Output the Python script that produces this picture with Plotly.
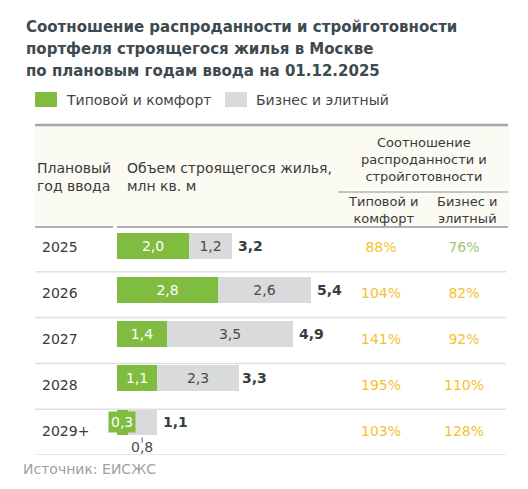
import plotly.graph_objects as go

# данные
years = ["2025", "2026", "2027", "2028", "2029+"]
typical = [2.0, 2.8, 1.4, 1.1, 0.3]
business = [1.2, 2.6, 3.5, 2.3, 0.8]
totals = [3.2, 5.4, 4.9, 3.3, 1.1]
ratio_typical = ["88%", "104%", "141%", "195%", "103%"]
ratio_business = ["76%", "82%", "92%", "110%", "128%"]

W, H = 528, 489
GREEN = "#7fbc3f"
GREY = "#d9dadb"
TEXT = "#3a3a3a"
YELLOW = "#f3c22f"
LIGHTGREEN = "#a0c57c"
FONT = "DejaVu Sans"


def px(x):
    return x / W


def py(y):
    return 1 - y / H


def fmt(v):
    return f"{v:.1f}".replace(".", ",")


# подписи внутри столбцов (для 2029+ - отдельно)
typ_text = [fmt(v) for v in typical[:-1]] + [""]
bus_text = [fmt(v) for v in business[:-1]] + [""]

fig = go.Figure()
fig.add_trace(go.Bar(
    y=years, x=typical, orientation="h", marker=dict(color=GREEN, line=dict(width=0)),
    width=0.57, text=typ_text, textposition="inside", insidetextanchor="middle",
    textfont=dict(color="white", size=14, family=FONT), constraintext="none",
    name="Типовой и комфорт", hoverinfo="skip",
))
fig.add_trace(go.Bar(
    y=years, x=business, orientation="h", marker=dict(color=GREY, line=dict(width=0)),
    width=0.57, text=bus_text, textposition="inside", insidetextanchor="middle",
    textfont=dict(color="#4a4a4a", size=14, family=FONT), constraintext="none",
    name="Бизнес и элитный", hoverinfo="skip",
))

# текстовые колонки таблицы (x2 - пиксели по ширине)
fig.add_trace(go.Scatter(
    x=[42] * len(years), y=years, xaxis="x2", yaxis="y2", mode="text", text=years,
    textposition="middle right", textfont=dict(size=14, color=TEXT, family=FONT),
    hoverinfo="skip",
))
fig.add_trace(go.Scatter(
    x=[381] * len(years), y=years, xaxis="x2", yaxis="y2", mode="text", text=ratio_typical,
    textposition="middle center", textfont=dict(size=14, color=YELLOW, family=FONT),
    hoverinfo="skip",
))
fig.add_trace(go.Scatter(
    x=[464] * len(years), y=years, xaxis="x2", yaxis="y2", mode="text", text=ratio_business,
    textposition="middle center",
    textfont=dict(size=14, color=[LIGHTGREEN] + [YELLOW] * (len(years) - 1), family=FONT),
    hoverinfo="skip",
))

ann = []
shapes = []


def note(**kw):
    kw.setdefault("showarrow", False)
    kw.setdefault("xanchor", "center")
    kw.setdefault("yanchor", "middle")
    ann.append(kw)


# итоги справа от столбцов
for i, t in enumerate(totals):
    note(x=t, y=i, xref="x", yref="y", text=f"<b>{fmt(t)}</b>", xanchor="left", xshift=4,
         font=dict(size=14, color="#333d42", family=FONT))

# маленькие значения 2029+
last = len(years) - 1
note(x=typical[-1] / 2, y=last, xref="x", yref="y", text=fmt(typical[-1]),
     bgcolor=GREEN, borderpad=2, font=dict(size=14, color="white", family=FONT))
xm = typical[-1] + business[-1] / 2
note(x=xm, y=last, xref="x", yref="y", text=fmt(business[-1]), yshift=-25,
     font=dict(size=14, color="#4a4a4a", family=FONT))
shapes.append(dict(type="line", xref="x", yref="y", x0=xm, x1=xm, y0=last + 0.36, y1=last + 0.48,
                   line=dict(color="#666", width=1)))

# линии строк
for i in range(len(years)):
    shapes.append(dict(type="line", xref="paper", yref="y2", x0=px(35), x1=px(506),
                       y0=i + 0.5, y1=i + 0.5, line=dict(color="#e0e0e0", width=1.5)))

# шапка таблицы
shapes += [
    dict(type="rect", xref="paper", yref="paper", x0=px(35), x1=px(510), y0=py(227), y1=py(125),
         fillcolor="#fbfaf3", line=dict(width=0), layer="below"),
    dict(type="line", xref="paper", yref="paper", x0=px(35), x1=px(508), y0=py(125), y1=py(125),
         line=dict(color="#a6a6a6", width=2.5)),
    dict(type="line", xref="paper", yref="paper", x0=px(35), x1=px(113), y0=py(227), y1=py(227),
         line=dict(color="#b0b0b0", width=2)),
    dict(type="line", xref="paper", yref="paper", x0=px(117), x1=px(508), y0=py(227), y1=py(227),
         line=dict(color="#b0b0b0", width=2)),
    dict(type="line", xref="paper", yref="paper", x0=px(338), x1=px(508), y0=py(192), y1=py(192),
         line=dict(color="#b0b0b0", width=1.5)),
]

hdr = dict(size=14, color=TEXT, family=FONT)
hdr_small = dict(size=13, color=TEXT, family=FONT)
note(x=px(35), y=py(177), xref="paper", yref="paper", text="Плановый<br>год ввода",
     xanchor="left", align="left", font=hdr)
note(x=px(125), y=py(177), xref="paper", yref="paper", text="Объем строящегося жилья,<br>млн кв. м",
     xanchor="left", align="left", font=hdr)
note(x=px(424), y=py(160), xref="paper", yref="paper",
     text="Соотношение<br>распроданности и<br>стройготовности", align="center", font=hdr_small)
note(x=px(383), y=py(210), xref="paper", yref="paper", text="Типовой и<br>комфорт",
     align="center", font=hdr_small)
note(x=px(467), y=py(210), xref="paper", yref="paper", text="Бизнес и<br>элитный",
     align="center", font=hdr_small)

# легенда
shapes += [
    dict(type="rect", xref="paper", yref="paper", x0=px(35), x1=px(57), y0=py(107), y1=py(92),
         fillcolor=GREEN, line=dict(width=0)),
    dict(type="rect", xref="paper", yref="paper", x0=px(225), x1=px(247), y0=py(107), y1=py(92),
         fillcolor=GREY, line=dict(width=0)),
]
note(x=px(64), y=py(100), xref="paper", yref="paper", text="Типовой и комфорт",
     xanchor="left", font=dict(size=14, color="#444", family=FONT))
note(x=px(254), y=py(100), xref="paper", yref="paper", text="Бизнес и элитный",
     xanchor="left", font=dict(size=14, color="#444", family=FONT))
note(x=px(21), y=py(469), xref="paper", yref="paper", text="Источник: ЕИСЖС",
     xanchor="left", font=dict(size=14, color="#a0a0a0", family=FONT))

# заголовок, по строкам
title_lines = ["Соотношение распроданности и стройготовности",
               "портфеля строящегося жилья в Москве",
               "по плановым годам ввода на 01.12.2025"]
for k, line in enumerate(title_lines):
    note(x=px(24), y=py(27 + 22 * k), xref="paper", yref="paper", text=f"<b>{line}</b>",
         xanchor="left", font=dict(size=15, color="#3d4a50", family=FONT))

fig.update_layout(
    width=W, height=H, margin=dict(l=0, r=0, t=0, b=0),
    barmode="stack", bargap=0, showlegend=False,
    paper_bgcolor="white", plot_bgcolor="rgba(0,0,0,0)",
    xaxis=dict(domain=[px(117), px(117 + 360)], range=[0, 10], visible=False, fixedrange=True),
    yaxis=dict(domain=[py(443.5), py(223.5)], type="category", categoryarray=years,
               range=[4.5, -0.5], visible=False, fixedrange=True),
    xaxis2=dict(domain=[0, 1], range=[0, W], visible=False, fixedrange=True, anchor="y2"),
    yaxis2=dict(domain=[py(454.9), py(226.1)], type="category", categoryarray=years,
                range=[4.5, -0.5], visible=False, fixedrange=True, anchor="x2"),
    annotations=ann, shapes=shapes,
)

fig.write_html("out.html", config={"displayModeBar": False},
               post_script="document.body.style.margin='0';")
